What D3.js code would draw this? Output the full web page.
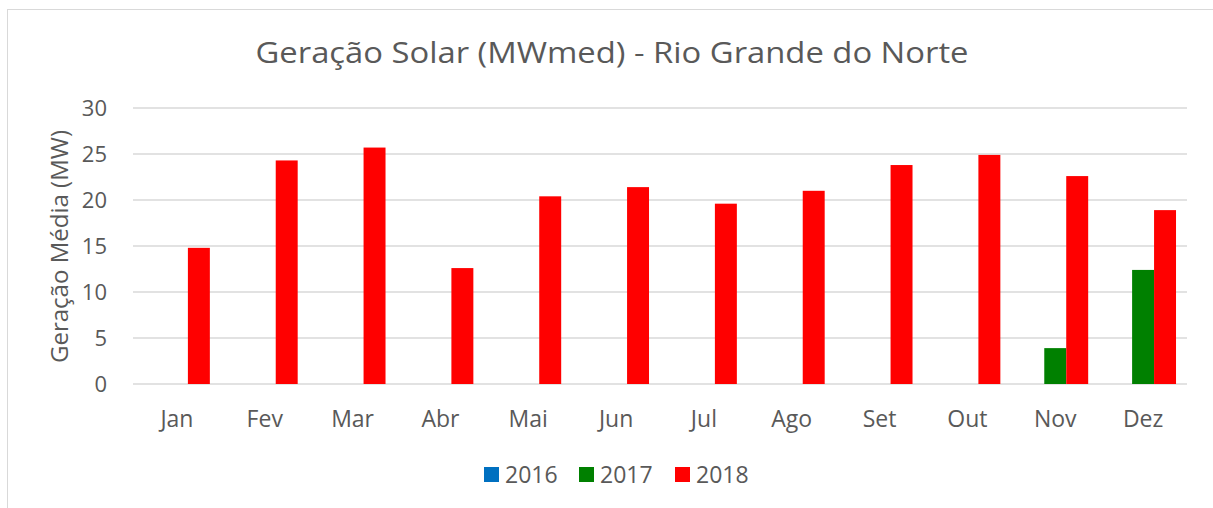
<!DOCTYPE html>
<html><head><meta charset="utf-8">
<script src="https://cdn.jsdelivr.net/npm/d3@7"></script>
<style>body{margin:0;background:#fff}svg{display:block}text{font-family:"Open Sans","Noto Sans",sans-serif;fill:#595959}</style>
</head><body><svg id="c" width="1213" height="508"></svg>
<script>
const months = ["Jan","Fev","Mar","Abr","Mai","Jun","Jul","Ago","Set","Out","Nov","Dez"];
const seriesNames = ["2016","2017","2018"];
const v2016 = [null,null,null,null,null,null,null,null,null,null,null,null];
const v2017 = [null,null,null,null,null,null,null,null,null,null,3.9,12.4];
const v2018 = [14.8,24.3,25.7,12.6,20.4,21.4,19.6,21.0,23.8,24.9,22.6,18.9];
const colors = ["#0070c0","#008000","#ff0000"];
const yTicks = [0,5,10,15,20,25,30];
const title = "Geração Solar (MWmed) - Rio Grande do Norte";
const yTitle = "Geração Média (MW)";

const svg = d3.select("#c");
svg.append("rect").attr("x",7.5).attr("y",9.5).attr("width",1220).attr("height",520)
  .attr("fill","#fff").attr("stroke","#d9d9d9").attr("stroke-width",1);

const L=133, R=1187, T=108, B=384;
const x0 = d3.scaleBand().domain(months).range([L,R]).paddingInner(0.25).paddingOuter(0.125);
const x1 = d3.scaleBand().domain(seriesNames).range([0,x0.bandwidth()]);
const y = d3.scaleLinear().domain([0,30]).range([B,T]);

svg.append("g").selectAll("line").data(yTicks).join("line")
  .attr("x1",L).attr("x2",R).attr("y1",d=>y(d)).attr("y2",d=>y(d))
  .attr("stroke","#d9d9d9").attr("stroke-width",1.5);

const yAxis = svg.append("g").attr("transform",`translate(${L},0)`)
  .call(d3.axisLeft(y).tickValues(yTicks).tickSize(0).tickPadding(26));
yAxis.select(".domain").remove();
yAxis.selectAll("text").style("font-size","22px").attr("fill","#595959").attr("dy","0.36em");

const data = [v2016,v2017,v2018];
data.forEach((vals,si)=>{
  svg.append("g").selectAll("rect").data(months.map((m,i)=>({m,v:vals[i]})).filter(d=>d.v!=null)).join("rect")
    .attr("x",d=>x0(d.m)+x1(seriesNames[si]))
    .attr("width",x1.bandwidth())
    .attr("y",d=>y(d.v)).attr("height",d=>B-y(d.v))
    .attr("fill",colors[si]);
});

const xAxis = svg.append("g").attr("transform",`translate(0,${B})`)
  .call(d3.axisBottom(x0).tickSize(0).tickPadding(0));
xAxis.select(".domain").remove();
xAxis.selectAll("text").style("font-size","23px").attr("fill","#595959").attr("y",43).attr("dy",0);

svg.append("text").attr("x",612).attr("y",63).attr("text-anchor","middle")
  .style("font-size","30px").attr("textLength",713).attr("lengthAdjust","spacingAndGlyphs").text(title);

svg.append("text").attr("transform","translate(68,246.5) rotate(-90)").attr("text-anchor","middle")
  .style("font-size","23px").attr("textLength",233).attr("lengthAdjust","spacingAndGlyphs").text(yTitle);

const legX = [484,579,675];
seriesNames.forEach((s,i)=>{
  svg.append("rect").attr("x",legX[i]).attr("y",467).attr("width",15).attr("height",15).attr("fill",colors[i]);
  svg.append("text").attr("x",legX[i]+21).attr("y",483).style("font-size","23px").text(s);
});
</script></body></html>
